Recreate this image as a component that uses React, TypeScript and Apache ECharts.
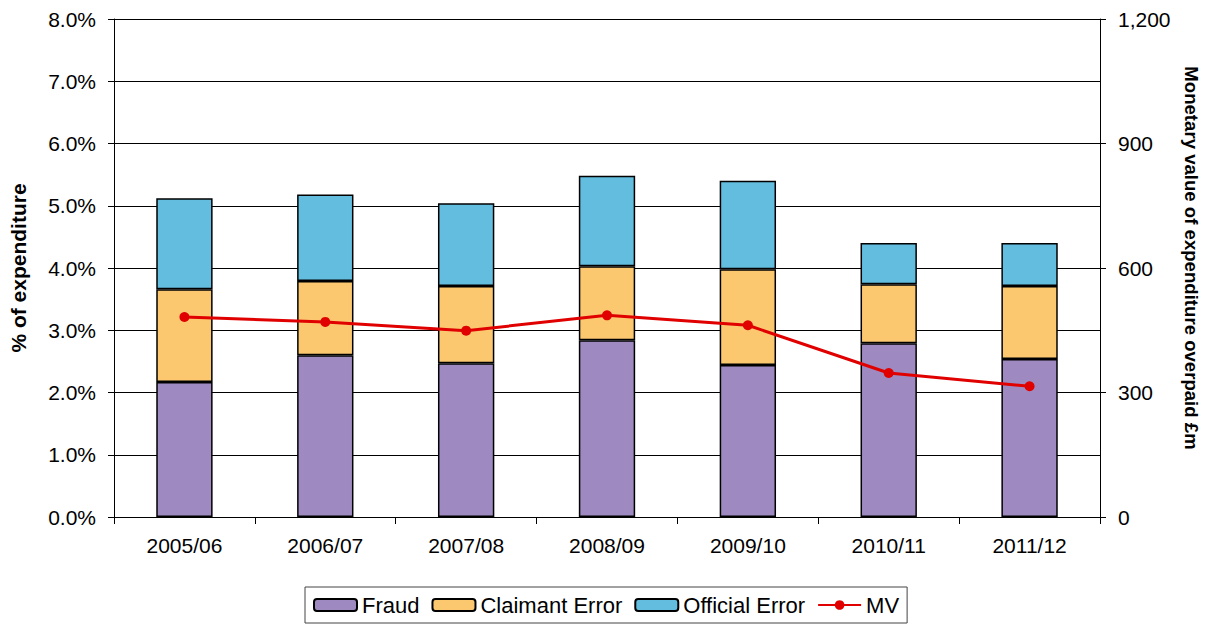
import React, { useEffect, useRef } from "react";
import * as echarts from "echarts";

const categories = ["2005/06", "2006/07", "2007/08", "2008/09", "2009/10", "2010/11", "2011/12"];
const fraud = [2.17, 2.6, 2.47, 2.84, 2.44, 2.79, 2.54];
const claimantError = [1.49, 1.19, 1.24, 1.19, 1.54, 0.95, 1.17];
const officialError = [1.46, 1.39, 1.33, 1.45, 1.42, 0.66, 0.69];
const mv = [482, 470, 449, 486, 462, 347, 315];

const FONT = "'Liberation Sans', Arial, sans-serif";

export default function App() {
  const ref = useRef<HTMLDivElement>(null);
  useEffect(() => {
    if (!ref.current) return;
    const chart = echarts.init(ref.current, undefined, { renderer: "svg" });
    const barBorder = { borderColor: "#000", borderWidth: 1.5 };
    chart.setOption({
      animation: false,
      backgroundColor: "#fff",
      textStyle: { fontFamily: FONT },
      grid: { left: 114, right: 108, top: 19, bottom: 110, containLabel: false },
      legend: {
        left: 305,
        top: 587,
        padding: [7, 8],
        itemGap: 12,
        itemWidth: 43,
        itemHeight: 12,
        borderColor: "#444",
        borderWidth: 1,
        borderRadius: 0,
        textStyle: { fontFamily: FONT, fontSize: 22, color: "#000" },
        data: ["Fraud", "Claimant Error", "Official Error", "MV"],
      },
      xAxis: {
        type: "category",
        data: categories,
        axisLine: { lineStyle: { color: "#000", width: 1 } },
        axisTick: { show: true, length: 7, lineStyle: { color: "#000" } },
        axisLabel: { fontFamily: FONT, fontSize: 21, color: "#000", margin: 18 },
      },
      yAxis: [
        {
          type: "value",
          min: 0,
          max: 8,
          interval: 1,
          axisLine: { show: true, lineStyle: { color: "#000", width: 1 } },
          axisTick: { show: true, length: 6, lineStyle: { color: "#000" } },
          axisLabel: {
            fontFamily: FONT,
            fontSize: 21,
            color: "#000",
            margin: 18,
            formatter: (v: number) => v.toFixed(1) + "%",
          },
          splitLine: { show: true, lineStyle: { color: "#000", width: 1 } },
        },
        {
          type: "value",
          min: 0,
          max: 1200,
          interval: 300,
          position: "right",
          axisLine: { show: true, lineStyle: { color: "#000", width: 1 } },
          axisTick: { show: true, length: 6, lineStyle: { color: "#000" } },
          axisLabel: {
            fontFamily: FONT,
            fontSize: 21,
            color: "#000",
            margin: 18,
            formatter: (v: number) => v.toLocaleString("en-US"),
          },
          splitLine: { show: false },
        },
      ],
      graphic: [
        {
          type: "text",
          x: 18,
          y: 268,
          rotation: Math.PI / 2,
          style: {
            text: "% of expenditure",
            font: `bold 21px ${FONT}`,
            fill: "#000",
            align: "center",
            verticalAlign: "middle",
          },
        },
        {
          type: "text",
          x: 1191,
          y: 258,
          rotation: -Math.PI / 2,
          style: {
            text: "Monetary value of expenditure overpaid £m",
            font: `bold 18.6px ${FONT}`,
            fill: "#000",
            align: "center",
            verticalAlign: "middle",
          },
        },
      ],
      series: [
        {
          name: "Fraud",
          type: "bar",
          stack: "total",
          barWidth: "40%",
          data: fraud,
          itemStyle: { color: "#9E8AC0", ...barBorder },
        },
        {
          name: "Claimant Error",
          type: "bar",
          stack: "total",
          barWidth: "40%",
          data: claimantError,
          itemStyle: { color: "#FBC870", ...barBorder },
        },
        {
          name: "Official Error",
          type: "bar",
          stack: "total",
          barWidth: "40%",
          data: officialError,
          itemStyle: { color: "#63BDDF", ...barBorder },
        },
        {
          name: "MV",
          type: "line",
          yAxisIndex: 1,
          data: mv,
          symbol: "circle",
          symbolSize: 10,
          itemStyle: { color: "#E00000" },
          lineStyle: { color: "#E00000", width: 3 },
        },
      ],
    });
    return () => chart.dispose();
  }, []);
  return (
    <div
      ref={ref}
      style={{ position: "fixed", left: 0, top: 0, width: 1208, height: 627, background: "#fff" }}
    />
  );
}
